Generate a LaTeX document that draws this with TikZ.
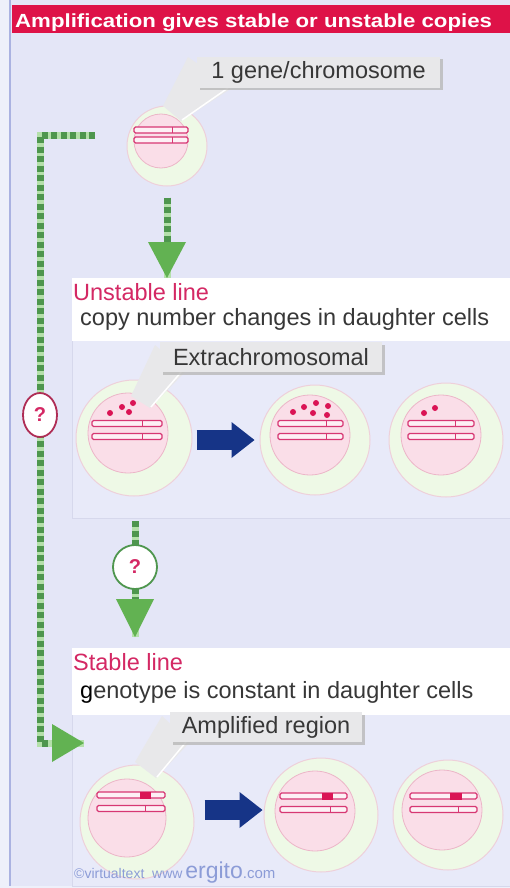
\documentclass[tikz,border=0pt]{standalone}
\usepackage{fontspec}
\setmainfont{Liberation Sans}
\newfontfamily\titlefont{Liberation Sans}[FakeStretch=1.17]
\definecolor{pagewhite}{RGB}{238,240,250}
\definecolor{bglav}{RGB}{228,230,247}
\definecolor{panellav}{RGB}{232,234,249}
\definecolor{panelrim}{RGB}{214,216,236}
\definecolor{framelav}{RGB}{170,178,225}
\definecolor{titlered}{RGB}{222,18,72}
\definecolor{linered}{RGB}{212,40,100}
\definecolor{qrim}{RGB}{175,45,85}
\definecolor{textgrey}{RGB}{55,55,55}
\definecolor{dashgreen}{RGB}{78,150,78}
\definecolor{palegreen}{RGB}{180,224,170}
\definecolor{headgreen}{RGB}{98,178,82}
\definecolor{cellgreen}{RGB}{238,249,230}
\definecolor{cellrim}{RGB}{238,208,218}
\definecolor{nucpink}{RGB}{250,222,232}
\definecolor{nucrim}{RGB}{236,182,200}
\definecolor{chromred}{RGB}{215,55,115}
\definecolor{barfill}{RGB}{253,240,245}
\definecolor{dotred}{RGB}{218,20,85}
\definecolor{navy1}{RGB}{22,52,135}
\definecolor{calloutgrey}{RGB}{232,232,234}
\definecolor{creditblue}{RGB}{140,156,215}
\usepackage{tikz}
\usetikzlibrary{arrows.meta, positioning, calc, shadows, shapes.geometric}

\tikzset{
  outercell/.style={circle, draw=cellrim, fill=cellgreen, line width=1pt, minimum size=#1, inner sep=0pt},
  nucleus/.style={circle, draw=nucrim, fill=nucpink, line width=0.8pt, minimum size=#1, inner sep=0pt},
  chromline/.style={draw=chromred, fill=barfill, line width=1.3pt, rounded corners=1.5pt},
  callout/.style={fill=calloutgrey, text=textgrey, font=\fontsize{23.5}{26}\selectfont, inner sep=2pt,
    drop shadow={shadow xshift=2.5pt, shadow yshift=-2.5pt, fill=gray!55, opacity=0.8}},
  linehead/.style={anchor=base west, inner sep=0pt, text=linered, font=\fontsize{23.5}{26}\selectfont},
  linebody/.style={anchor=base west, inner sep=0pt, text=textgrey, font=\fontsize{23.5}{26}\selectfont},
  greendash/.style={dashgreen, line width=7pt, dash pattern=on 6pt off 3.5pt,
    preaction={draw=palegreen, line width=7pt, solid, -}},
  greenhead/.style={-{Triangle[length=#1, width=38pt, line width=0pt, color=headgreen]}},
  bluearrow/.style={navy1, line width=20pt, -{Triangle[length=23pt, width=36pt, line width=0pt]}},
  qmark/.style={fill=white, line width=1.8pt, text=linered, font=\fontsize{20}{22}\selectfont\bfseries}
}

% one chromosome bar: x from, x to, y, gene mark
\newcommand{\chrombar}[4]{%
  \draw[chromline] (#1,#3-3) rectangle (#2,#3+3);
  \draw[chromred, line width=0.9pt] (#4,#3-3) -- (#4,#3+3);}
\newcommand{\ampblock}[3]{\fill[dotred] (#1,#3-3.5) rectangle (#2,#3+3.5);}
\newcommand{\extradot}[2]{\fill[dotred] (#1,#2) circle[radius=3pt];}

\begin{document}
\begin{tikzpicture}[x=1pt, y=-1pt]
  \useasboundingbox (0,0) rectangle (510,888);

  % background and heading
  \fill[pagewhite] (0,0) rectangle (510,888);
  \fill[bglav] (10,0) rectangle (510,886);
  \draw[framelav, line width=1.5pt] (10,0) -- (10,886);
  \fill[titlered] (12,5) rectangle (512,33);
  \node[anchor=base west, inner sep=0pt, text=white, font=\titlefont\fontsize{19}{22}\selectfont\bfseries] (title) at (15,28)
    {Amplification gives stable or unstable copies};

  % panels
  \filldraw[fill=panellav, draw=panelrim] (72,278) rectangle (512,518);
  \fill[white] (72,278) rectangle (512,341);
  \filldraw[fill=panellav, draw=panelrim] (72,648) rectangle (512,886);
  \fill[white] (72,648) rectangle (512,715);

  \node[linehead] (unstable) at (73,300) {Unstable line};
  \node[linebody] (unstabledesc) at (80,325) {copy number changes in daughter cells};
  \node[linehead] (stable) at (73,670) {Stable line};
  \node[linebody] (stabledesc) at (80,698) {{\color{black}g}enotype is constant in daughter cells};

  % starting cell
  \node[outercell=80pt] (c0) at (167,146) {};
  \node[nucleus=54pt] (n0) at (161,141) {};
  \chrombar{134}{188}{130}{172}
  \chrombar{134}{188}{140}{172}

  % unstable line cells
  \node[outercell=116pt] (u1) at (134,438) {};
  \node[nucleus=80pt] (un1) at (128,433) {};
  \chrombar{92}{162}{423.5}{142}
  \chrombar{92}{162}{436.5}{142}
  \extradot{110}{413} \extradot{122}{407} \extradot{129}{412} \extradot{133}{403}

  \node[outercell=110pt] (u2) at (315,440) {};
  \node[nucleus=80pt] (un2) at (310,435) {};
  \chrombar{278}{343}{423.5}{326}
  \chrombar{278}{343}{436.5}{326}
  \extradot{293}{412} \extradot{304}{407} \extradot{313}{413}
  \extradot{316}{403} \extradot{328}{406} \extradot{327}{415}

  \node[outercell=114pt] (u3) at (446,440) {};
  \node[nucleus=80pt] (un3) at (441,435) {};
  \chrombar{408}{474}{423.5}{455}
  \chrombar{408}{474}{436.5}{455}
  \extradot{424}{413} \extradot{435}{408}

  % stable line cells
  \node[outercell=114pt] (s1) at (137,822) {};
  \node[nucleus=78pt] (sn1) at (127,818) {};
  \chrombar{97}{165}{795}{145}
  \chrombar{97}{165}{808.5}{145}
  \ampblock{140}{151}{795}

  \node[outercell=114pt] (s2) at (321,815) {};
  \node[nucleus=80pt] (sn2) at (315,811) {};
  \chrombar{280}{347}{796}{330}
  \chrombar{280}{347}{809.5}{330}
  \ampblock{322}{333}{796}

  \node[outercell=110pt] (s3) at (448,815) {};
  \node[nucleus=80pt] (sn3) at (442,810) {};
  \chrombar{410}{477}{796}{458}
  \chrombar{410}{477}{809.5}{458}
  \ampblock{450}{462}{796}

  % division arrows
  \draw[bluearrow, shorten <=4pt, shorten >=5pt] ([yshift=-2pt]u1.east) -- ([yshift=-2pt]u1.east -| u2.west);
  \draw[bluearrow, shorten <=10pt, shorten >=1pt] ([yshift=12pt]s1.east) -- ([yshift=12pt]s1.east -| s2.west);

  % callouts
  \fill[calloutgrey] (188,57) -- (232,88) -- (181,121) -- (163,106) -- cycle;
  \draw[white, line width=1.5pt] (228,88) -- (182,120);
  \node[callout, minimum width=243pt, minimum height=31pt] (gene) at (318.5,72.5) {1 gene/chromosome};

  \fill[calloutgrey] (155,345) -- (186,371) -- (150,408) -- (131,396) -- cycle;
  \draw[white, line width=1.5pt] (182,371) -- (151,407);
  \node[callout, minimum width=222pt, minimum height=30pt] (extra) at (271,357) {Extrachromosomal};

  \fill[calloutgrey] (162,716) -- (190,742) -- (156,778) -- (135,762) -- cycle;
  \draw[white, line width=1.5pt] (186,742) -- (157,777);
  \node[callout, minimum width=192pt, minimum height=30pt] (amp) at (266,727) {Amplified region};

  % green paths
  \coordinate (utop) at (167,278);
  \draw[greendash, greenhead=36pt, shorten <=11pt] (c0.south) -- (utop);

  \coordinate (ubot) at (135,521);
  \coordinate (qpos) at (135,567);
  \coordinate (stop) at (135,637);
  \draw[greendash, greenhead=38pt] (ubot) -- (stop);
  \node[qmark, circle, draw=dashgreen, minimum size=44pt] (qmid) at (qpos) {?};

  \coordinate (loopstart) at (95,135);
  \coordinate (qside) at (40,415);
  \coordinate (loopend) at (84,743);
  \draw[greendash, greenhead=32pt, line join=miter] (loopstart) -| (qside) |- (loopend);
  \node[qmark, ellipse, draw=qrim, minimum width=34pt, minimum height=44pt, inner sep=0pt] (qleft) at (qside) {?};

  % credit line
  \node[anchor=base west, inner sep=0pt, text=creditblue] (credit) at (74,878)
    {{\fontsize{14}{16}\selectfont ©virtualtext\ \ www} {\fontsize{23}{25}\selectfont ergito}{\fontsize{15}{16}\selectfont .com}};
\end{tikzpicture}
\end{document}
